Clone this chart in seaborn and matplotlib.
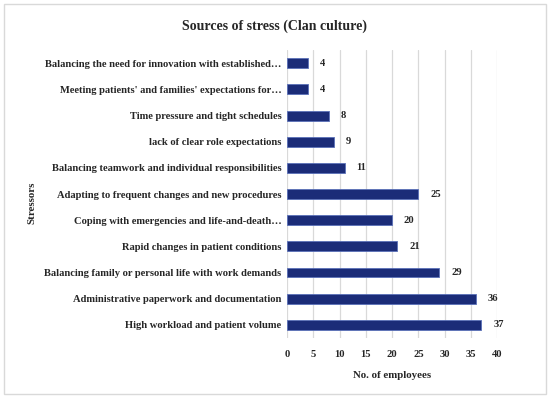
import numpy as np
import pandas as pd
import matplotlib
matplotlib.use('Agg')
import matplotlib.pyplot as plt
import seaborn as sns
from matplotlib.patches import Rectangle

sns.set_style('white')
plt.rcParams['font.family'] = ['Liberation Serif', 'DejaVu Serif']
plt.rcParams['font.weight'] = 'bold'

# 数据 (top to bottom)
stressors = [
    "Balancing the need for innovation with established\u2026",
    "Meeting patients' and families' expectations for\u2026",
    "Time pressure and tight schedules",
    "lack of clear role expectations",
    "Balancing teamwork and individual responsibilities",
    "Adapting to frequent changes and new procedures",
    "Coping with emergencies and life-and-death\u2026",
    "Rapid changes in patient conditions",
    "Balancing family or personal life with work demands",
    "Administrative paperwork and documentation",
    "High workload and patient volume",
]
employees = [4, 4, 8, 9, 11, 25, 20, 21, 29, 36, 37]
x_ticks = [0, 5, 10, 15, 20, 25, 30, 35, 40]

df = pd.DataFrame({'Stressors': stressors, 'No. of employees': employees})

fig = plt.figure(figsize=(5.5, 3.98), dpi=100)
ax = fig.add_axes([0.522, 0.151, 0.382, 0.723])

sns.barplot(data=df, x='No. of employees', y='Stressors', orient='h',
            color='#1b2c78', edgecolor='#5a70b8', linewidth=0.6,
            width=0.38, saturation=1, ax=ax)

ax.set_xlim(0, 40)
ax.set_ylim(10.5, -0.5)
ax.set_xticks(x_ticks)
ax.xaxis.grid(True, color='#d9d9d9', linewidth=0.9)
ax.set_axisbelow(True)
for s in ax.spines.values():
    s.set_visible(False)
ax.tick_params(axis='both', length=0, labelsize=7.6)
ax.tick_params(axis='x', pad=9)
ax.tick_params(axis='y', pad=4)
for lab in ax.get_xticklabels() + ax.get_yticklabels():
    lab.set_fontweight('bold')

for i, v in enumerate(employees):
    ax.annotate(str(v), (v, i), xytext=(8.5, 0), textcoords='offset points',
                va='center', ha='left', fontsize=7.6, fontweight='bold')

ax.set_xlabel('No. of employees', fontsize=7.8, fontweight='bold', labelpad=8)
ax.set_ylabel('')
fig.text(0.058, 0.49, 'Stressors', rotation=90, ha='center', va='center',
         fontsize=7.8, fontweight='bold')
fig.text(0.5, 0.933, 'Sources of stress (Clan culture)', ha='center', va='center',
         fontsize=10, fontweight='bold')

fig.patches.append(Rectangle((0.007, 0.01), 0.986, 0.98, transform=fig.transFigure,
                             fill=False, edgecolor='#d9d9d9', linewidth=1))

fig.savefig('out.png', dpi=100)
